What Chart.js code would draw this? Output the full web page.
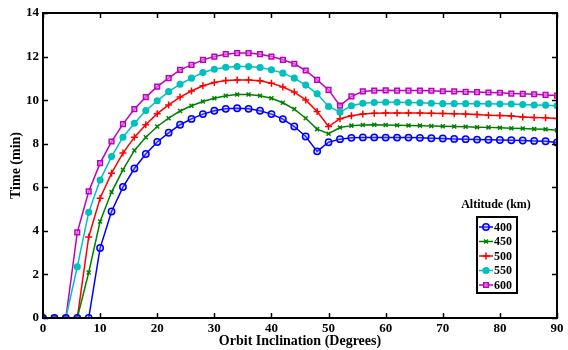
<!DOCTYPE html>
<html>
<head>
<meta charset="utf-8">
<script src="https://cdn.jsdelivr.net/npm/chart.js@4"></script>
<style>
  html, body { margin: 0; padding: 0; background: #fff; }
  #wrap { width: 568px; height: 350px; }
</style>
</head>
<body>
<div id="wrap"><canvas id="c" width="568" height="350"></canvas></div>
<script>
// orbit inclination (deg)
const inclination = [0, 2, 4, 6, 8, 10, 12, 14, 16, 18, 20, 22, 24, 26, 28, 30, 32, 34, 36, 38, 40, 42, 44, 46, 48,
    50, 52, 54, 56, 58, 60, 62, 64, 66, 68, 70, 72, 74, 76, 78, 80, 82, 84, 86, 88, 90];

const alt400 = [0, 0, 0, 0, 0, 3.21, 4.89, 6.01, 6.86, 7.53, 8.08, 8.50, 8.87, 9.14, 9.36, 9.51, 9.60, 9.63, 9.60, 9.51,
    9.36, 9.13, 8.79, 8.33, 7.65, 8.07, 8.21, 8.27, 8.29, 8.29, 8.28, 8.28, 8.28, 8.27, 8.25, 8.24, 8.22, 8.21, 8.19,
    8.18, 8.17, 8.16, 8.15, 8.13, 8.11, 8.06];
const alt450 = [0, 0, 0, 0, 2.09, 4.43, 5.78, 6.80, 7.69, 8.30, 8.79, 9.17, 9.50, 9.74, 9.94, 10.09, 10.20, 10.26,
    10.26, 10.20, 10.09, 9.88, 9.59, 9.17, 8.67, 8.46, 8.74, 8.83, 8.86, 8.87, 8.86, 8.85, 8.84, 8.83, 8.81, 8.80,
    8.79, 8.78, 8.76, 8.75, 8.73, 8.71, 8.70, 8.68, 8.66, 8.62];
const alt500 = [0, 0, 0, 0, 3.72, 5.50, 6.65, 7.57, 8.30, 8.87, 9.38, 9.78, 10.14, 10.42, 10.66, 10.81, 10.90, 10.93,
    10.93, 10.89, 10.78, 10.60, 10.37, 10.01, 9.48, 8.79, 9.15, 9.28, 9.36, 9.40, 9.41, 9.41, 9.41, 9.41, 9.40, 9.39,
    9.38, 9.36, 9.34, 9.31, 9.30, 9.27, 9.23, 9.20, 9.19, 9.16];
const alt550 = [0, 0, 0, 2.35, 4.85, 6.33, 7.41, 8.30, 8.94, 9.52, 9.97, 10.39, 10.73, 11.01, 11.27, 11.42, 11.51,
    11.54, 11.54, 11.50, 11.39, 11.24, 11.01, 10.69, 10.29, 9.71, 9.45, 9.74, 9.86, 9.89, 9.90, 9.90, 9.89, 9.88,
    9.86, 9.84, 9.84, 9.84, 9.83, 9.83, 9.82, 9.82, 9.80, 9.78, 9.77, 9.74];
const alt600 = [0, 0, 0, 3.93, 5.81, 7.11, 8.10, 8.90, 9.59, 10.14, 10.62, 11.01, 11.39, 11.62, 11.85, 12.00, 12.11,
    12.16, 12.16, 12.11, 12.00, 11.85, 11.67, 11.36, 10.93, 10.47, 9.75, 10.17, 10.40, 10.44, 10.45, 10.44, 10.44,
    10.44, 10.43, 10.41, 10.40, 10.38, 10.37, 10.35, 10.34, 10.30, 10.29, 10.27, 10.24, 10.21];

const seriesNames = ['400', '450', '500', '550', '600'];
const xTicks = [0, 10, 20, 30, 40, 50, 60, 70, 80, 90];
const yTicks = [0, 2, 4, 6, 8, 10, 12, 14];

const FONT = '"Liberation Serif", "Times New Roman", serif';

function pts(vals) {
    return inclination.map((x, i) => ({ x: x, y: vals[i] }));
}

const styles = [
    { color: '#0000ff', fill: 'rgba(140,140,255,0.3)', point: 'circle', r: 3.2 },
    { color: '#008000', fill: '#008000', point: 'crossRot', r: 2.8 },
    { color: '#ff0000', fill: '#ff0000', point: 'cross', r: 3.5 },
    { color: '#00bfbf', fill: '#00bfbf', point: 'circle', r: 2.8 },
    { color: '#bf00bf', fill: 'rgba(225,140,225,0.6)', point: 'rect', r: 3.3 }
];

const allSeries = [alt400, alt450, alt500, alt550, alt600];

// frame, inward ticks, legend box
const framePlugin = {
    id: 'frame',
    afterDraw(chart) {
        const { ctx, chartArea: a, scales } = chart;
        ctx.save();
        ctx.strokeStyle = '#000';
        ctx.lineWidth = 1.5;
        ctx.beginPath();
        xTicks.forEach(v => {
            const px = Math.round(scales.x.getPixelForValue(v)) + 0.5;
            ctx.moveTo(px, a.bottom); ctx.lineTo(px, a.bottom - 5);
            ctx.moveTo(px, a.top); ctx.lineTo(px, a.top + 5);
        });
        yTicks.forEach(v => {
            const py = Math.round(scales.y.getPixelForValue(v)) + 0.5;
            ctx.moveTo(a.left, py); ctx.lineTo(a.left + 5, py);
            ctx.moveTo(a.right, py); ctx.lineTo(a.right - 5, py);
        });
        ctx.stroke();
        ctx.lineWidth = 2;
        ctx.strokeRect(a.left, a.top, a.right - a.left, a.bottom - a.top);

        // legend
        const bx = 477, by = 217, bw = 40, bh = 76;
        ctx.fillStyle = '#fff';
        ctx.fillRect(bx, by, bw, bh);
        ctx.lineWidth = 2;
        ctx.strokeStyle = '#000';
        ctx.strokeRect(bx, by, bw, bh);
        ctx.font = 'bold 12px ' + FONT;
        ctx.fillStyle = '#000';
        ctx.textAlign = 'center';
        ctx.textBaseline = 'middle';
        ctx.fillText('Altitude (km)', 496, 205);
        ctx.textAlign = 'left';
        seriesNames.forEach((name, i) => {
            const y = by + 10 + i * 14.5;
            const s = styles[i];
            ctx.strokeStyle = s.color;
            ctx.lineWidth = 1.5;
            ctx.beginPath();
            ctx.moveTo(479, y); ctx.lineTo(493, y);
            ctx.stroke();
            ctx.fillStyle = s.fill;
            ctx.strokeStyle = s.color;
            Chart.helpers.drawPoint(ctx, {
                pointStyle: s.point, radius: s.r, borderWidth: 1.5, rotation: 0
            }, 486, y);
            ctx.fillStyle = '#000';
            ctx.fillText(name, 494, y + 0.5);
        });
        ctx.restore();
    }
};

new Chart(document.getElementById('c'), {
    type: 'line',
    data: {
        datasets: allSeries.map((vals, i) => ({
            label: seriesNames[i],
            data: pts(vals),
            borderColor: styles[i].color,
            backgroundColor: styles[i].fill,
            pointBorderColor: styles[i].color,
            pointBackgroundColor: styles[i].fill,
            pointStyle: styles[i].point,
            pointRadius: styles[i].r,
            pointBorderWidth: 1.5,
            borderWidth: 1.5,
            tension: 0,
            fill: false
        }))
    },
    options: {
        responsive: false,
        animation: false,
        devicePixelRatio: 1,
        layout: { padding: { top: 13, right: 11, left: 0, bottom: 0 } },
        plugins: { legend: { display: false }, tooltip: { enabled: false } },
        scales: {
            x: {
                type: 'linear', min: 0, max: 90,
                afterFit(s) { s.height = 32; },
                afterBuildTicks(s) { s.ticks = xTicks.map(v => ({ value: v })); },
                grid: { display: false, drawTicks: false },
                border: { display: false },
                ticks: { color: '#000', padding: 3, maxRotation: 0, font: { family: FONT, size: 13, weight: 'bold' } },
                title: { display: true, text: 'Orbit Inclination (Degrees)', color: '#000', padding: 0,
                    font: { family: FONT, size: 14, weight: 'bold' } }
            },
            y: {
                type: 'linear', min: 0, max: 14,
                afterFit(s) { s.width = 43; },
                afterBuildTicks(s) { s.ticks = yTicks.map(v => ({ value: v })); },
                grid: { display: false, drawTicks: false },
                border: { display: false },
                ticks: { color: '#000', padding: 4, font: { family: FONT, size: 13, weight: 'bold' } },
                title: { display: true, text: 'Time (min)', color: '#000', padding: { top: 8, bottom: 0 },
                    font: { family: FONT, size: 14, weight: 'bold' } }
            }
        }
    },
    plugins: [framePlugin]
});
</script>
</body>
</html>
